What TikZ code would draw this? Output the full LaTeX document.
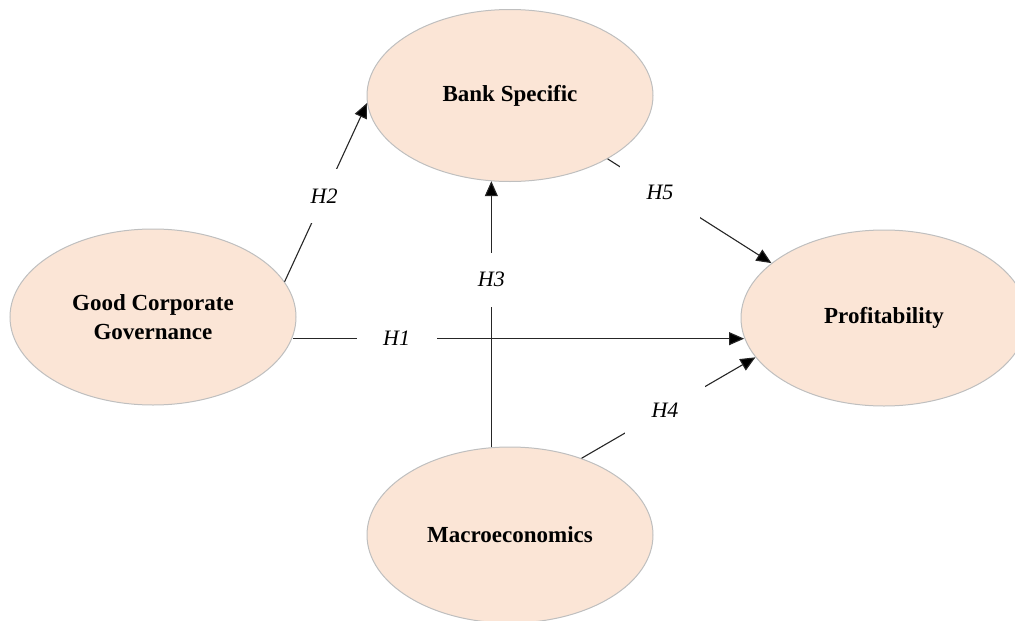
\documentclass[tikz,border=0pt]{standalone}
\usepackage{fontspec}
\setmainfont{Liberation Serif}
\usetikzlibrary{shapes.geometric,arrows.meta}
\definecolor{peach}{HTML}{FBE5D6}
\definecolor{rim}{HTML}{BFBFBF}
\begin{document}
\begin{tikzpicture}[x=1pt,y=-1pt,
  oval/.style={ellipse,draw=rim,line width=1pt,fill=peach,minimum width=286pt,minimum height=176pt,inner sep=0pt,
    font=\fontsize{23}{29}\selectfont\bfseries,align=center,text=black},
  link/.style={draw=black!85,line width=1.1pt},
  arr/.style={link,-{Triangle[length=15pt,width=13pt,fill=black]}},
  lbl/.style={fill=white,minimum width=80pt,minimum height=54pt,inner sep=0pt,font=\fontsize{22}{26}\selectfont\itshape}]
\useasboundingbox (0,0) rectangle (1015,621);
\clip (0,0) rectangle (1015,621);
\node[oval] (gcg) at (153,317) {Good Corporate\\Governance};
\node[oval,minimum height=172pt] (bank) at (510,95.5) {Bank Specific};
\node[oval] (prof) at (884,318) {Profitability};
\node[oval] (macro) at (510,535) {Macroeconomics};
% H2
\draw[arr] (gcg.15.9) -- node[lbl,pos=0.48]{H2} (bank.183.4);
% H5
\draw[arr] (bank.-33.2) -- node[lbl,pos=0.32]{H5} (prof.154.7);
% H4
\draw[arr] (macro.47.7) -- node[lbl,pos=0.48]{H4} (prof.197.1);
% H3
\draw[arr] (macro.102.9) -- node[lbl,pos=0.63]{H3} (macro.102.9 |- bank.-103.2);
% H1
\draw[arr] ([yshift=-2pt]gcg.-8.5) -- node[lbl,pos=0.23]{H1} ([yshift=-2pt]gcg.-8.5 -| prof.188.2);
\end{tikzpicture}
\end{document}
